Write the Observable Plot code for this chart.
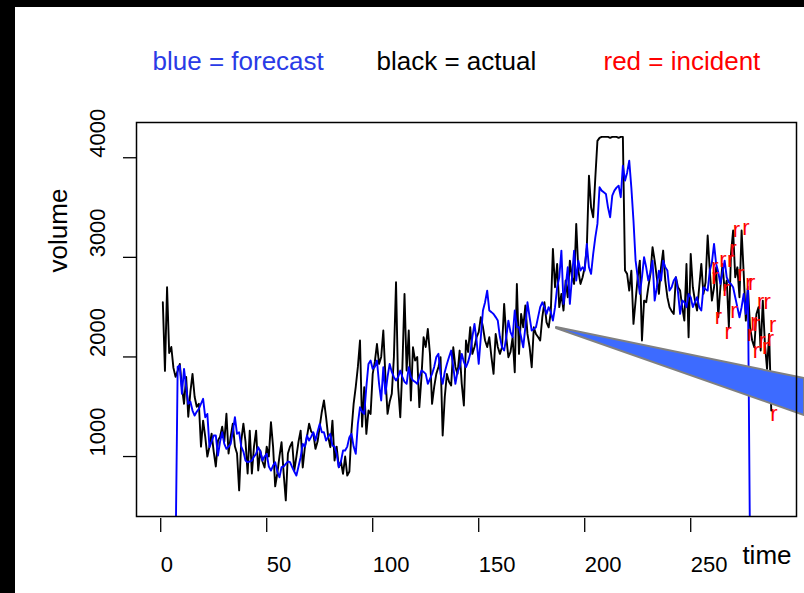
<!DOCTYPE html>
<html>
<head>
<meta charset="utf-8">
<script src="https://cdn.jsdelivr.net/npm/d3@7"></script>
<script src="https://cdn.jsdelivr.net/npm/@observablehq/plot@0.6"></script>
<style>
  html, body { margin: 0; padding: 0; background: #fff; }
  #wrap { position: relative; width: 804px; height: 593px; overflow: hidden; background: #fff; }
  #wrap svg { position: absolute; left: 0; top: 0; }
  .band { position: absolute; background: #000; z-index: 5; }
</style>
</head>
<body>
<div id="wrap">
  <div class="band" style="left:0;top:0;width:15px;height:593px"></div>
  <div class="band" style="left:0;top:0;width:804px;height:7px"></div>
</div>
<script>
// ---- data ----
const actual = [
  2550, 1860, 2700, 2040, 2100, 1890, 1800, 1860, 1930, 1700,
  1530, 1800, 1400, 1650, 1830, 1600, 1500, 1530, 1100, 1360,
  1200, 1000, 1100, 1230, 1050, 900, 1160, 1200, 1300, 1150,
  1430, 1030, 1200, 1330, 1100, 1030, 660, 1160, 1330, 1150,
  830, 1260, 830, 1100, 1260, 860, 1060, 950, 890, 1100,
  1000, 1345, 1100, 700, 830, 1000, 1144, 830, 560, 1030,
  1100, 1144, 860, 1000, 1150, 1260, 890, 1094, 1200, 1330,
  1250, 1230, 1077, 1150, 1300, 1450, 1563, 1395, 1200, 1094,
  1361, 960, 1100, 893, 950, 826, 1000, 809, 850, 1261,
  1529, 1700, 1900, 2165, 1300, 1696, 1228, 1462, 1428, 1830,
  1950, 2130, 1930, 2000, 2265, 1800, 1428, 1550, 1630, 2000,
  2750, 1696, 1395, 1900, 2633, 1863, 2265, 1563, 2097, 1964,
  2000, 1496, 1800, 2198, 2100, 2281, 2031, 1529, 1700, 1830,
  1900, 1997, 1211, 1600, 1830, 1750, 1713, 2097, 1900, 1830,
  2064, 1730, 1513, 2165, 2050, 2298, 2031, 2100, 2198, 2250,
  2399, 2300, 2165, 2100, 2198, 2000, 1830, 2231, 2100, 2031,
  2097, 2533, 2200, 1997, 2050, 2198, 1847, 2733, 2031, 2432,
  2298, 2516, 2231, 2100, 1897, 2298, 2231, 2200, 2165, 2400,
  2549, 2348, 2298, 2450, 3085, 2700, 2934, 2500, 2633, 2466,
  2767, 2600, 2967, 2800, 2733, 3336, 2867, 2733, 2800, 2900,
  3100, 3820, 3503, 3403, 3800, 4170, 4200, 4210, 4210, 4210,
  4210, 4200, 4210, 4210, 4210, 4200, 4210, 4210, 2867, 2834,
  2666, 2867, 2332, 2566, 2800, 2967, 2165, 2566, 2549, 2700,
  2834, 3102, 2967, 2800, 2633, 2900, 3068, 2767, 2600, 2500,
  2460, 2432, 2800, 2700, 2666, 2500, 2365, 2934, 2198, 3035,
  2700, 2566, 2466, 2700, 2934, 2633, 2750, 3219, 2867, 2566,
  2700, 2900, 2399, 2700, 2934, 2666, 2767, 2298, 3035, 3269,
  2800, 2900, 2600, 3269, 2834, 2365, 2700, 2298, 2165, 2097,
  2432, 2500, 2064, 2566, 2131, 1880, 2231, 1462
];

const forecast = [
  null, null, null, null, null, null, 0, 1900, 1913, 1630,
  1880, 1700, 1529, 1550, 1462, 1412, 1450, 1479, 1530, 1580,
  1395, 1428, 1094, 1150, 1211, 1211, 1010, 1150, 1244, 1127,
  1077, 1100, 1127, 1250, 1395, 1228, 1244, 1100, 1050, 960,
  943, 950, 960, 1000, 1027, 1094, 1050, 960, 1000, 1027,
  900, 859, 909, 943, 850, 792, 893, 900, 926, 950,
  943, 893, 850, 809, 900, 993, 1127, 1100, 1211, 1160,
  1200, 1244, 1160, 1250, 1328, 1244, 1244, 1160, 1200, 1228,
  1110, 1100, 1027, 893, 950, 1060, 1060, 1100, 1194, 1228,
  1100, 1027, 1328, 1496, 1450, 1428, 1700, 1930, 1964, 1880,
  1900, 1964, 1730, 1563, 1897, 1630, 1800, 1930, 1850, 1797,
  1763, 1800, 1863, 1800, 1750, 1730, 1897, 1800, 1763, 1750,
  1730, 1800, 1863, 1850, 1830, 1730, 1780, 1830, 1900, 2000,
  2031, 1830, 1730, 1850, 1930, 2000, 2064, 1900, 1730, 1850,
  1897, 2031, 1950, 1897, 1950, 2031, 2200, 2332, 2165, 1930,
  2200, 2466, 2550, 2666, 2466, 2450, 2432, 2400, 2365, 2200,
  2097, 2064, 2200, 2365, 2250, 2198, 2466, 2300, 2298, 2200,
  2097, 2300, 2549, 2400, 2265, 2280, 2298, 2400, 2500, 2549,
  2500, 2432, 2500, 2450, 2365, 2500, 2700, 2800, 3068, 2533,
  2700, 2900, 2533, 2800, 3068, 2767, 2967, 2867, 2900, 2867,
  3135, 2900, 2834, 3035, 3200, 3336, 3704, 3670, 3654, 3637,
  3500, 3403, 3620, 3670, 3700, 3720, 3604, 3921, 3770, 3850,
  3971, 3700, 3370, 2967, 2800, 2633, 2800, 3002, 2900, 2767,
  2850, 2967, 2566, 2700, 2867, 2767, 2967, 2900, 2867, 2666,
  2700, 2767, 2800, 2650, 2432, 2566, 2550, 2500, 2633, 2600,
  2500, 2550, 2600, 2500, 2466, 2700, 2680, 2666, 2867, 2950,
  3135, 2934, 2850, 2733, 2850, 2967, 2800, 2750, 2733, 2700,
  2600, 2500, 2399, 2500, 2633, 2432, 2700, 0,
  null, null, null, null, null, null, null, null, null, null
];

const incidentT = [261.4, 261.4, 265.2, 268.8, 270.0, 271.6, 276.0, 266.6, 273.5, 277.4,
                   278.7, 263.1, 267.7, 270.4, 279.8, 281.0, 278.2, 283.0, 286.1, 281.0,
                   283.7, 285.3, 287.6, 288.7, 289.2];
const incidentV = [2900, 2800, 2975, 2975, 3085, 3276, 3296, 2684, 2834, 2744,
                   2744, 2399, 2248, 2466, 2349, 2332, 2232, 2549, 2549, 2064,
                   2165, 2097, 2181, 2325, 1429];

const xTicks = [0, 50, 100, 150, 200, 250];
const yTicks = [1000, 2000, 3000, 4000];
const legendLabels = ["blue = forecast", "black = actual", "red = incident"];
const legendColors = ["#2a3be6", "#000000", "#ff0000"];
const legendOffsets = [16, 240, 467];

// annotation wedge (tip near t≈187, opening towards the right edge)
const arrowT = [186.7, 303.7];
const arrowTop = [2295, 1783];
const arrowBottom = [2285, 1412];

// ---- build ----
const time = actual.map((_, i) => i + 1);
const actualRows = time.map((t, i) => ({t, v: actual[i]}));
const forecastRows = forecast.map((v, i) => ({t: i + 1, v}));
const incidents = incidentT.map((t, i) => ({t, v: incidentV[i]}));
const arrowRows = arrowT.map((t, i) => ({t, top: arrowTop[i], bottom: arrowBottom[i]}));

const font = "'Liberation Sans', Arial, Helvetica, sans-serif";

const legendMarks = legendLabels.map((label, i) =>
  Plot.text([label], {frameAnchor: "top-left", dx: legendOffsets[i], dy: -53, text: d => d,
    fill: legendColors[i], textAnchor: "start", lineAnchor: "bottom", fontSize: 26}));

const chart = Plot.plot({
  width: 804,
  height: 593,
  marginLeft: 136,
  marginRight: 8,
  marginTop: 122,
  marginBottom: 77,
  style: {fontFamily: font, background: "#fff", overflow: "visible"},
  x: {domain: [-11.42, 299.9], label: null},
  y: {domain: [398, 4354], label: null},
  marks: [
    Plot.axisY({ticks: yTicks, tickSize: 13, tickFormat: () => "", label: null, strokeWidth: 1.3}),
    Plot.axisX({ticks: xTicks, tickSize: 14, tickFormat: () => "", label: null, strokeWidth: 1.3, dy: 2}),
    Plot.text(yTicks, {y: d => d, text: d => String(d), frameAnchor: "left", dx: -39, rotate: -90,
      textAnchor: "start", lineAnchor: "middle", fontSize: 22, fill: "#000"}),
    Plot.text(xTicks, {x: d => d, text: d => String(d), frameAnchor: "bottom", dy: 55,
      textAnchor: "start", lineAnchor: "bottom", fontSize: 22, fill: "#000"}),
    Plot.text(["volume"], {frameAnchor: "top-left", dx: -78, dy: 108, rotate: -90,
      textAnchor: "middle", lineAnchor: "middle", fontSize: 26, fill: "#000"}),
    Plot.text(["time"], {frameAnchor: "bottom-right", dx: -5, dy: 47,
      textAnchor: "end", lineAnchor: "bottom", fontSize: 26, fill: "#000"}),
    ...legendMarks,
    Plot.line(actualRows, {x: "t", y: "v", stroke: "#000", strokeWidth: 1.9, clip: true}),
    Plot.line(forecastRows, {x: "t", y: "v", stroke: "#0000ff", strokeWidth: 1.9, clip: true}),
    Plot.areaY(arrowRows, {x: "t", y1: "top", y2: "bottom", fill: "#3d6bff", stroke: "#808080", strokeWidth: 2}),
    Plot.text(incidents, {x: "t", y: "v", text: () => "r", fill: "#ff0000", fontSize: 22,
      textAnchor: "middle", lineAnchor: "middle"}),
    Plot.frame({stroke: "#000", strokeWidth: 1.5})
  ]
});

document.getElementById("wrap").prepend(chart);
</script>
</body>
</html>
